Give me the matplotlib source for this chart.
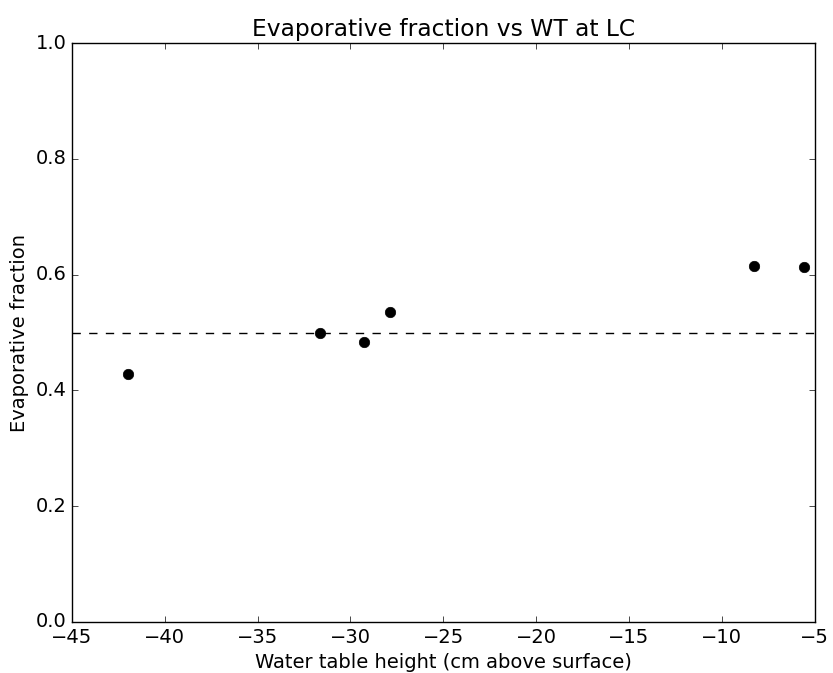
import matplotlib
matplotlib.use("Agg")
import matplotlib.pyplot as plt

wt = [-42.0, -31.65, -29.25, -27.85, -8.25, -5.55]
ef = [0.428, 0.499, 0.483, 0.535, 0.615, 0.613]
ref_level = 0.5

plt.style.use('classic')
plt.rcParams['font.size'] = 14
fig = plt.figure(figsize=(8.33, 6.73), dpi=100, facecolor='white')
ax = fig.add_axes([0.0864, 0.0758, 0.8916, 0.8602])
ax.plot(wt, ef, 'ko', markersize=7.5)
ax.axhline(ref_level, color='k', linestyle='--', linewidth=1)
ax.set_xlim(-45, -5)
ax.set_ylim(0, 1)
ax.tick_params(labelsize=14)
ax.set_xlabel('Water table height (cm above surface)', fontsize=14)
ax.set_ylabel('Evaporative fraction', fontsize=14)
ax.set_title('Evaporative fraction vs WT at LC', fontsize=16.8)
fig.savefig('out.png', dpi=100, facecolor='white')
